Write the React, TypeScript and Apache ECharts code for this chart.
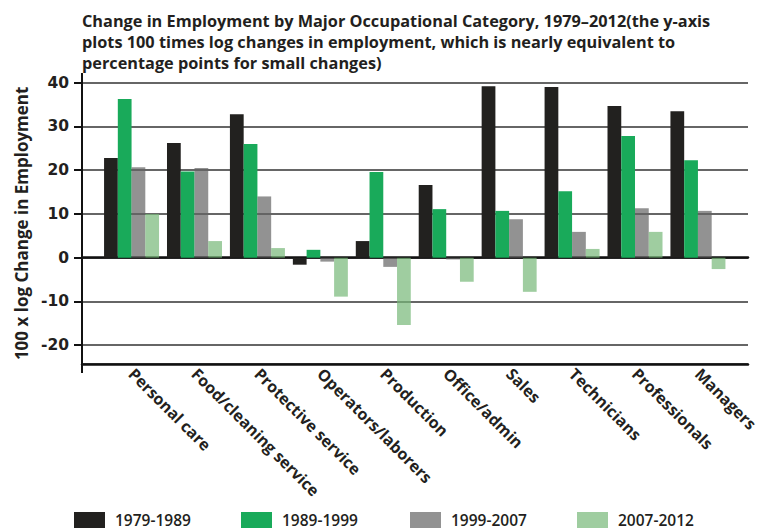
import React, { useEffect, useRef } from "react";
import * as echarts from "echarts";

const categories = [
  "Personal care",
  "Food/cleaning service",
  "Protective service",
  "Operators/laborers",
  "Production",
  "Office/admin",
  "Sales",
  "Technicians",
  "Professionals",
  "Managers",
];
const seriesNames = ["1979-1989", "1989-1999", "1999-2007", "2007-2012"];
const v1979_1989 = [22.8, 26.2, 32.8, -1.6, 3.8, 16.6, 39.2, 39.0, 34.7, 33.5];
const v1989_1999 = [36.3, 19.7, 26.0, 1.8, 19.6, 11.1, 10.7, 15.2, 27.8, 22.3];
const v1999_2007 = [20.7, 20.5, 14.0, -0.9, -2.1, -0.4, 8.8, 5.9, 11.3, 10.7];
const v2007_2012 = [10.0, 3.8, 2.2, -8.9, -15.4, -5.5, -7.8, 2.0, 5.9, -2.6];
const yMin = -24.3;
const yMax = 40;

const TITLE =
  "Change in Employment by Major Occupational Category, 1979\u20132012(the y-axis\nplots 100 times log changes in employment, which is nearly equivalent to\npercentage points for small changes)";

export default function App() {
  const ref = useRef<HTMLDivElement>(null);
  useEffect(() => {
    document.body.style.margin = "0";
    const chart = echarts.init(ref.current!, null, { renderer: "svg" });
    const dark = "#231f20";
    const font = "Open Sans";
    const colors = ["#22211f", "#19aa5a", "rgba(100,100,100,0.7)", "rgba(118,184,119,0.7)"];
    const datas = [v1979_1989, v1989_1999, v1999_2007, v2007_2012];
    const legendLefts = [74, 241, 410, 577];
    const gridBase = { top: 82.7, bottom: 531 - 364 };
    chart.setOption({
      animation: false,
      title: {
        text: TITLE,
        left: 77,
        top: 5,
        textStyle: { fontFamily: font, fontWeight: "bold", fontSize: 16.3, lineHeight: 21, color: dark },
      },
      legend: seriesNames.map((n, i) => ({
        data: [n],
        left: legendLefts[i],
        top: 512,
        padding: 0,
        icon: "rect",
        itemWidth: 31,
        itemHeight: 16,
        selectedMode: false,
        textStyle: {
          fontFamily: font, fontWeight: 600, fontSize: 15.5, lineHeight: 16, color: dark,
          padding: [0, 0, 0, 5],
        },
      })),
      grid: [
        { left: 82, right: 19, ...gridBase },
        { left: 100.1, right: 37.6, ...gridBase },
      ],
      xAxis: [
        {
          gridIndex: 0, type: "value", min: 0, max: 1, position: "bottom",
          axisLine: { show: true, onZero: false, lineStyle: { color: "#111", width: 2.5 } },
          axisTick: { show: false }, axisLabel: { show: false }, splitLine: { show: false },
        },
        {
          gridIndex: 0, type: "value", min: 0, max: 1, position: "top",
          axisLine: { show: true, onZero: true, lineStyle: { color: "#111", width: 2.5 } },
          axisTick: { show: false }, axisLabel: { show: false }, splitLine: { show: false },
        },
        {
          gridIndex: 1, type: "category", data: categories, position: "bottom",
          axisLine: { show: false, onZero: false }, axisTick: { show: false },
          axisLabel: {
            interval: 0, rotate: -45, margin: 7,
            fontFamily: font, fontWeight: "bold", fontSize: 16, color: dark,
          },
        },
      ],
      yAxis: [
        {
          gridIndex: 0, type: "value", min: yMin, max: yMax,
          name: "100 x log Change in Employment", nameLocation: "middle", nameGap: 44,
          nameTextStyle: { fontFamily: font, fontWeight: "bold", fontSize: 17, color: dark },
          axisLine: { show: true, lineStyle: { color: "#111", width: 2 } },
          axisTick: { show: true, length: 8, lineStyle: { color: "#111", width: 2 } },
          axisLabel: {
            showMinLabel: false, margin: 13,
            fontFamily: "DejaVu Sans", fontWeight: "bold", fontSize: 15.5, color: dark,
          },
          splitLine: { lineStyle: { color: "#333", width: 1.5 } },
        },
        { gridIndex: 1, type: "value", min: yMin, max: yMax, show: false, splitLine: { show: false } },
      ],
      series: seriesNames.map((n, i) => ({
        name: n,
        type: "bar",
        xAxisIndex: 2,
        yAxisIndex: 1,
        data: datas[i],
        barWidth: 13.75,
        barGap: "0%",
        itemStyle: { color: colors[i] },
      })),
      graphic: [
        { type: "line", shape: { x1: 82, y1: 73, x2: 82, y2: 373 }, style: { stroke: "#111", lineWidth: 2 }, z: 100 },
      ],
    });
    return () => chart.dispose();
  }, []);
  return <div ref={ref} style={{ width: 767, height: 531 }} />;
}
